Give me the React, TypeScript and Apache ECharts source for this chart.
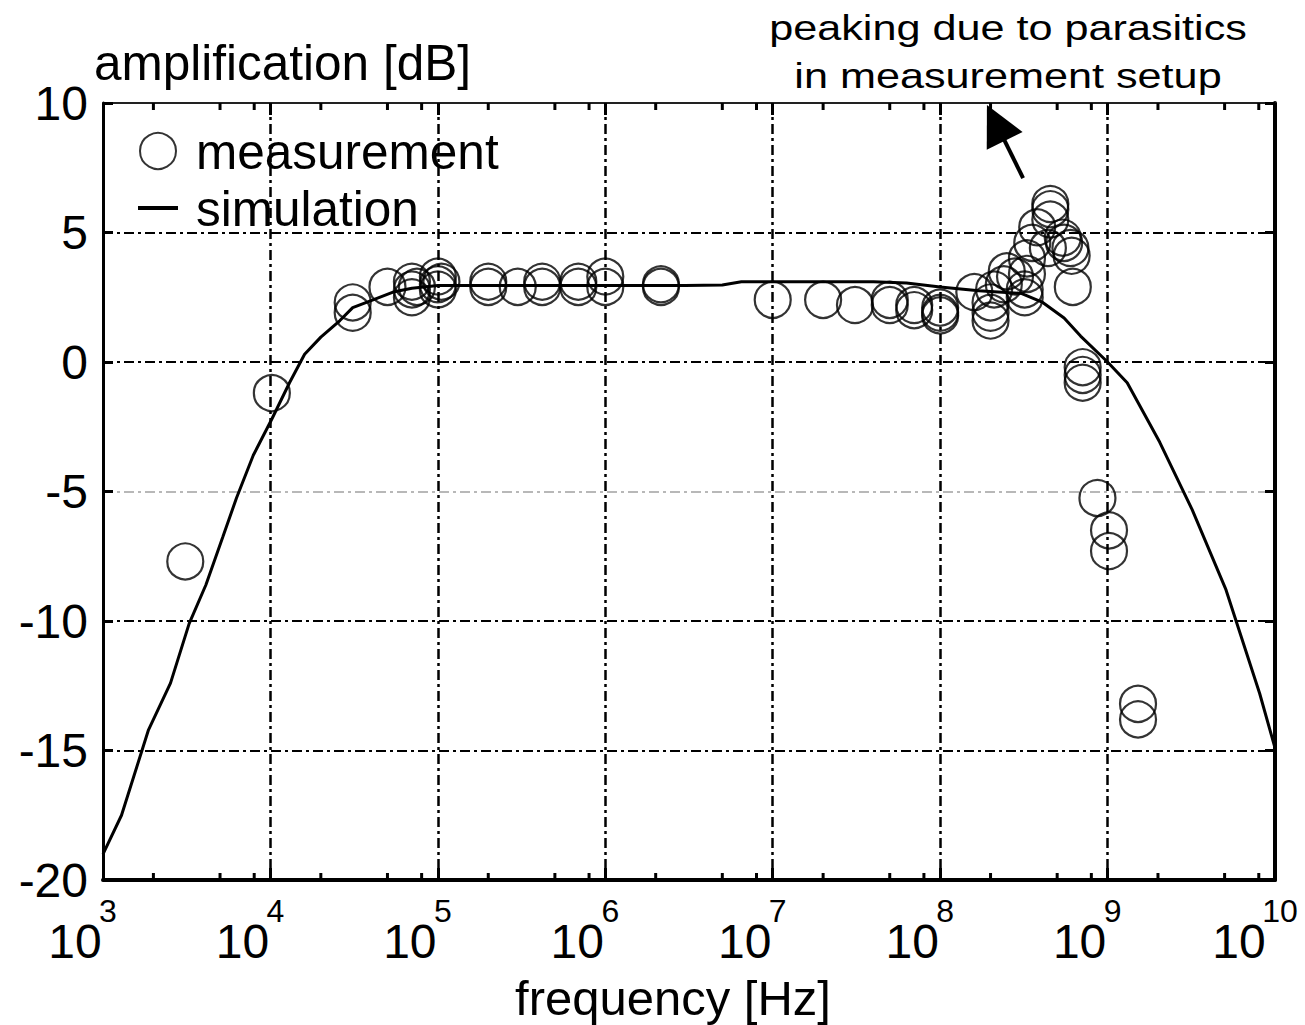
import React, { useEffect, useRef } from "react";
import * as echarts from "echarts";

// ---- data ----
const measFreq = [
  3.1e3, 1.02e4, 3.1e4, 3.1e4, 5.0e4, 7.0e4, 7.0e4, 7.0e4, 7.5e4, 1.0e5, 1.0e5, 1.0e5, 1.05e5,
  2.0e5, 2.0e5, 3.0e5, 4.2e5, 4.2e5, 6.9e5, 6.9e5, 1.0e6, 1.0e6, 2.15e6, 2.15e6,
  1.0e7, 2.0e7, 3.1e7, 5.0e7, 5.0e7, 7.0e7, 7.0e7, 1.0e8, 1.0e8, 1.0e8,
  1.6e8, 2.0e8, 2.0e8, 2.0e8, 2.1e8, 2.4e8, 2.5e8, 2.8e8, 3.2e8, 3.2e8, 3.3e8, 3.3e8,
  3.55e8, 3.8e8, 4.4e8, 4.55e8, 4.55e8, 4.55e8, 5.4e8, 5.5e8, 6.0e8, 6.1e8, 6.2e8,
  7.1e8, 7.1e8, 7.1e8, 8.7e8, 1.02e9, 1.02e9, 1.52e9, 1.52e9,
];
const measGain = [
  -7.7, -1.2, 2.3, 1.9, 2.9, 3.1, 2.8, 2.5, 2.9, 3.3, 3.0, 2.8, 3.1,
  3.1, 2.9, 2.9, 3.1, 2.9, 3.1, 2.9, 3.3, 2.9, 3.0, 2.9,
  2.4, 2.4, 2.2, 2.4, 2.2, 2.2, 2.0, 2.1, 1.9, 1.8,
  2.7, 2.3, 1.9, 1.6, 2.8, 3.0, 3.5, 3.3, 2.8, 2.5, 4.0, 3.4,
  4.6, 5.2, 4.4, 6.1, 5.9, 5.5, 4.8, 4.6, 4.4, 4.1, 2.9,
  -0.2, -0.5, -0.8, -5.25, -6.5, -7.3, -13.2, -13.8,
];
const simFreq = [
  1e3, 1.29e3, 1.87e3, 2.53e3, 3.27e3, 4.12e3, 5.2e3, 6.27e3, 7.9e3, 1.02e4, 1.3e4, 1.6e4,
  2.0e4, 2.6e4, 3.1e4, 4.1e4, 5.4e4, 7.0e4, 1.0e5, 3.0e5, 1.0e6, 3.0e6, 5.0e6, 6.5e6,
  2.0e7, 4.0e7, 6.3e7, 1.0e8, 1.7e8, 3.05e8, 4.1e8, 5.5e8, 6.9e8, 1.0e9, 1.31e9, 2.05e9,
  3.2e9, 5.1e9, 8.1e9, 1e10,
];
const simGain = [
  -19.0, -17.5, -14.2, -12.4, -10.1, -8.6, -6.75, -5.25, -3.6, -2.2, -0.8, 0.3,
  0.96, 1.6, 2.1, 2.4, 2.7, 2.85, 2.95, 2.95, 2.95, 2.95, 2.97, 3.1,
  3.1, 3.1, 3.05, 2.9, 2.75, 2.65, 2.3, 1.7, 1.0, 0.0, -0.8, -3.1,
  -5.7, -8.8, -12.8, -14.9,
];
const yTickValues = [-20, -15, -10, -5, 0, 5, 10];
const decadeExponents = [3, 4, 5, 6, 7, 8, 9];
const minorMultipliers = [2, 5, 8];
const arrowTail = [3.13e8, 7.1];
const arrowEnd = [2.15e8, 9.23];

const FONT = "'Liberation Sans', Arial, Helvetica, sans-serif";

export default function App() {
  const ref = useRef<HTMLDivElement>(null);
  useEffect(() => {
    if (!ref.current) return;
    const chart = echarts.init(ref.current, undefined, { renderer: "svg" });
    const yMin = yTickValues[0];
    const yMax = yTickValues[yTickValues.length - 1];
    const minorData: number[][] = [];
    decadeExponents.forEach((e) =>
      minorMultipliers.forEach((m) => minorData.push([m * Math.pow(10, e), yMin]))
    );
    const gridColors = yTickValues.map((v) => (v === -5 ? "#b8b8b8" : "#000"));
    const expOf = (v: number) => Math.round(Math.log10(v));
    const logAxisBase = {
      type: "log",
      logBase: 10,
      min: 1e3,
      max: 1e10,
    };
    const option: any = {
      animation: false,
      backgroundColor: "#fff",
      textStyle: { fontFamily: FONT },
      title: {
        text: "amplification [dB]",
        left: 94,
        top: 37,
        padding: 0,
        textStyle: { fontSize: 49.5, fontWeight: "normal", color: "#000", fontFamily: FONT },
      },
      legend: {
        data: [
          { name: "measurement" },
          { name: "simulation", icon: "path://M0,0 L42,0 L42,4 L0,4 Z" },
        ],
        orient: "vertical",
        left: 133,
        top: 121,
        itemWidth: 40,
        itemHeight: 36,
        itemGap: 7,
        textStyle: { fontSize: 49.5, color: "#000", fontFamily: FONT, lineHeight: 36, padding: [0, 0, 0, 13] },
        selectedMode: false,
      },
      grid: {
        left: 103,
        right: 30,
        top: 103,
        bottom: 145,
        containLabel: false,
        outerBoundsMode: "none",
      },
      xAxis: [
        {
          ...logAxisBase,
          position: "bottom",
          name: "frequency [Hz]",
          nameLocation: "middle",
          nameGap: 93,
          nameTextStyle: { fontSize: 49, color: "#000", fontFamily: FONT, padding: [0, 32, 0, 0] },
          axisLine: { show: true, onZero: false, lineStyle: { color: "#000", width: 4 } },
          axisTick: { show: true, inside: true, length: 12, lineStyle: { color: "#000", width: 3 } },
          axisLabel: {
            margin: 43,
            color: "#000",
            fontSize: 48,
            lineHeight: 36,
            fontFamily: FONT,
            formatter: (v: number) => (expOf(v) >= 10 ? "{w|10}" : "{b|10}"),
            rich: {
              b: { fontSize: 48, lineHeight: 36, fontFamily: FONT, color: "#000", padding: [0, 56, 0, 0] },
              w: { fontSize: 48, lineHeight: 36, fontFamily: FONT, color: "#000", padding: [0, 72, 0, 0] },
            },
          },
          splitLine: {
            show: true,
            lineStyle: { color: "#000", width: 2.5, type: [10, 4, 3, 4] },
          },
        },
        {
          ...logAxisBase,
          position: "top",
          axisLine: { show: true, onZero: false, lineStyle: { color: "#222", width: 2 } },
          axisTick: { show: true, inside: true, length: 12, lineStyle: { color: "#000", width: 3 } },
          axisLabel: { show: false },
          splitLine: { show: false },
        },
        {
          ...logAxisBase,
          position: "bottom",
          axisLine: { show: false, onZero: false },
          axisTick: { show: false },
          splitLine: { show: false },
          axisLabel: {
            margin: 20,
            color: "#000",
            fontSize: 32,
            lineHeight: 22,
            fontFamily: FONT,
            padding: [0, 0, 0, 10],
            formatter: (v: number) => String(expOf(v)),
          },
        },
      ],
      yAxis: [
        {
          type: "value",
          min: yMin,
          max: yMax,
          interval: 5,
          position: "left",
          axisLine: { show: true, onZero: false, lineStyle: { color: "#000", width: 3 } },
          axisTick: { show: true, inside: true, length: 10, lineStyle: { color: "#000", width: 3 } },
          axisLabel: { fontSize: 48, color: "#000", margin: 15, fontFamily: FONT },
          splitLine: {
            show: true,
            showMinLine: true,
            showMaxLine: true,
            lineStyle: { color: gridColors, width: 2, type: [10, 4, 3, 4] },
          },
        },
        {
          type: "value",
          min: yMin,
          max: yMax,
          interval: 5,
          position: "right",
          axisLine: { show: true, onZero: false, lineStyle: { color: "#000", width: 4 } },
          axisTick: { show: true, inside: true, length: 10, lineStyle: { color: "#000", width: 3 } },
          axisLabel: { show: false },
          splitLine: { show: false },
        },
      ],
      graphic: [
        {
          type: "text",
          x: 1008,
          y: 27,
          scaleX: 1.2,
          style: {
            text: "peaking due to parasitics",
            fontSize: 36,
            fontFamily: FONT,
            fill: "#000",
            align: "center",
            verticalAlign: "middle",
            textAlign: "center",
            textVerticalAlign: "middle",
          },
        },
        {
          type: "text",
          x: 1008,
          y: 75,
          scaleX: 1.2,
          style: {
            text: "in measurement setup",
            fontSize: 36,
            fontFamily: FONT,
            fill: "#000",
            align: "center",
            verticalAlign: "middle",
            textAlign: "center",
            textVerticalAlign: "middle",
          },
        },
      ],
      series: [
        {
          name: "minor ticks",
          type: "custom",
          silent: true,
          clip: false,
          data: minorData,
          encode: { x: 0, y: 1 },
          renderItem: (params: any, api: any) => {
            const f = api.value(0);
            const b = api.coord([f, yMin]);
            const t = api.coord([f, yMax]);
            return {
              type: "group",
              children: [
                { type: "line", shape: { x1: b[0], y1: b[1], x2: b[0], y2: b[1] - 7 }, style: { stroke: "#000", lineWidth: 3 } },
                { type: "line", shape: { x1: t[0], y1: t[1], x2: t[0], y2: t[1] + 7 }, style: { stroke: "#000", lineWidth: 3 } },
              ],
            };
          },
        },
        {
          name: "simulation",
          type: "line",
          data: simFreq.map((f, i) => [f, simGain[i]]),
          symbol: "none",
          showSymbol: false,
          lineStyle: { color: "#000", width: 3 },
          itemStyle: { color: "#000" },
          z: 3,
        },
        {
          name: "measurement",
          type: "scatter",
          data: measFreq.map((f, i) => [f, measGain[i]]),
          symbol: "circle",
          symbolSize: 36,
          itemStyle: { color: "rgba(0,0,0,0)", borderColor: "#000", borderWidth: 2.2 },
          z: 4,
          markLine: {
            silent: true,
            symbol: ["none", "triangle"],
            symbolSize: 40,
            label: { show: false },
            lineStyle: { color: "#000", width: 4, type: "solid" },
            data: [[{ coord: arrowTail }, { coord: arrowEnd }]],
          },
        },
      ],
    };
    chart.setOption(option);
    return () => chart.dispose();
  }, []);
  return (
    <div
      ref={ref}
      style={{ position: "fixed", left: 0, top: 0, width: 1305, height: 1025, background: "#fff" }}
    />
  );
}
